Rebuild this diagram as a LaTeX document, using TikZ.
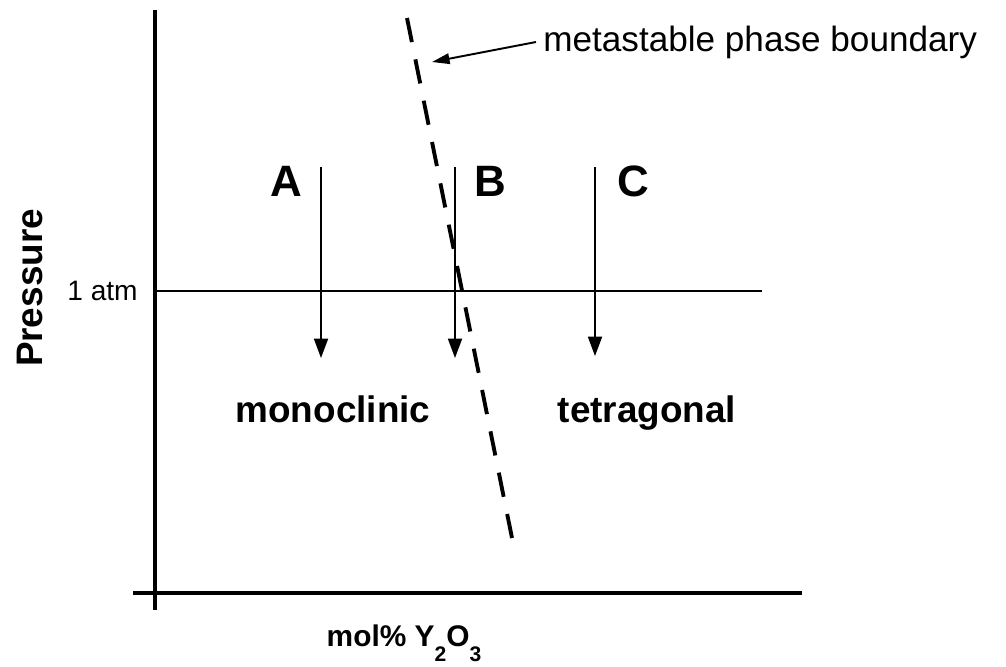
\documentclass[tikz,border=0pt]{standalone}
\usepackage{fontspec}
\setmainfont{Liberation Sans}
\usetikzlibrary{arrows.meta, positioning}

\newcommand{\lowsub}[1]{\raisebox{-1.0ex}{\fontsize{12}{14}\selectfont #1}}

\begin{document}
\begin{tikzpicture}[
    x=0.02cm, y=-0.02cm,
    axis/.style={line width=2.3pt},
    level/.style={line width=0.8pt},
    path/.style={line width=0.9pt, -{Triangle[length=11pt, width=8pt]}},
    boundary/.style={line width=2.2pt, dash pattern=on 14pt off 10pt},
    pointer/.style={line width=1.1pt, -{Triangle[length=10pt, width=6pt]}},
    letter/.style={font=\fontsize{25}{30}\selectfont\bfseries},
    phase/.style={font=\fontsize{21}{25}\selectfont\bfseries, anchor=base},
    note/.style={font=\fontsize{20}{24}\selectfont, anchor=west, inner sep=0pt}
]
    \useasboundingbox (0,0) rectangle (1006,666);

    % Axes
    \coordinate (ytop) at (155,10);
    \coordinate (ybot) at (155,610);
    \coordinate (xleft) at (133,593);
    \coordinate (xright) at (802,593);
    \draw[axis] (ytop) -- (ybot);
    \draw[axis] (xleft) -- (xright);

    % 1 atm level
    \coordinate (atmL) at (155,291);
    \coordinate (atmR) at (762,291);
    \draw[level] (atmL) -- (atmR);
    \node[font=\fontsize{16}{19}\selectfont, anchor=east, inner sep=0pt] (atm) at (138,291) {1 atm};

    % Axis labels
    \node[font=\fontsize{21}{25}\selectfont\bfseries, rotate=90] (pres) at (30,288) {Pressure};
    \node[font=\fontsize{17}{20}\selectfont\bfseries, anchor=base] (comp) at (404,646) {mol\% Y\lowsub{2}O\lowsub{3}};

    % Paths A, B, C
    \coordinate (aTop) at (321,167);
    \coordinate (aBot) at (321,358);
    \coordinate (bTop) at (455,167);
    \coordinate (bBot) at (455,358);
    \coordinate (cTop) at (595,167);
    \coordinate (cBot) at (595,356);
    \draw[path] (aTop) -- (aBot);
    \draw[path] (bTop) -- (bBot);
    \draw[path] (cTop) -- (cBot);
    \node[letter] (labA) at (286,181) {A};
    \node[letter] (labB) at (490,181) {B};
    \node[letter] (labC) at (633,181) {C};

    % Phases
    \node[phase] (mono) at (333,422) {monoclinic};
    \node[phase] (tetra) at (647,422) {tetragonal};

    % Metastable boundary
    \coordinate (bndTop) at (407,18);
    \coordinate (bndBot) at (512,538);
    \draw[boundary] (bndTop) -- (bndBot);

    % Annotation
    \node[note] (meta) at (543,42) {metastable phase boundary};
    \coordinate (tip) at (432,62);
    \draw[pointer] ([xshift=-4pt]meta.west) -- (tip);

\end{tikzpicture}
\end{document}
